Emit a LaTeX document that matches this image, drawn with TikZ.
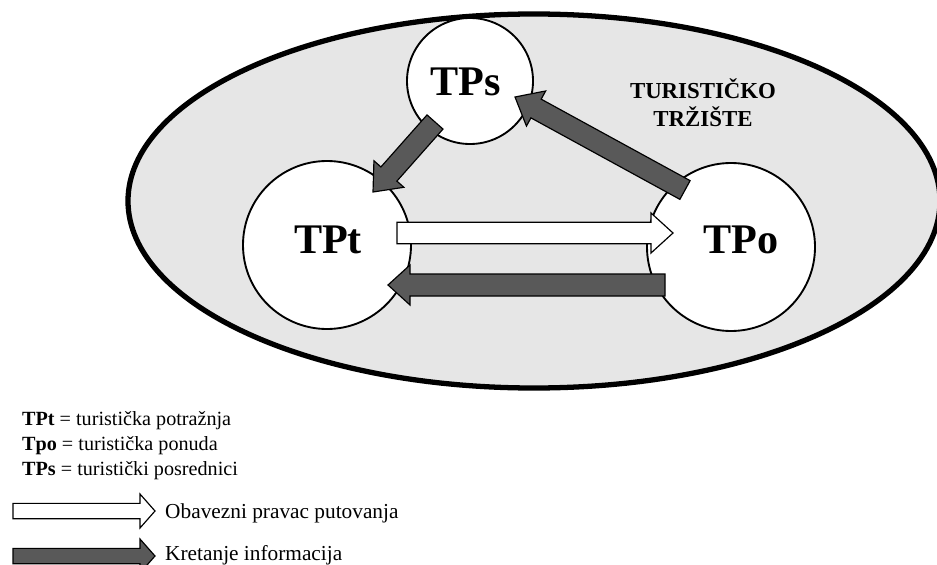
\documentclass[tikz,border=0pt]{standalone}
\usepackage{fontspec}
\setmainfont{Liberation Serif}
\usetikzlibrary{calc}

\definecolor{marketgray}{HTML}{E6E6E6}
\definecolor{infogray}{HTML}{595959}

\tikzset{
  bubble/.style={circle,draw,line width=1.6pt,fill=white,inner sep=0pt},
  biglbl/.style={font=\bfseries\fontsize{36}{40}\selectfont,inner sep=0pt},
  marketlbl/.style={font=\bfseries\fontsize{19.5}{24}\selectfont,align=center,inner sep=0pt},
  legendtxt/.style={font=\fontsize{17.2}{20}\selectfont,anchor=base west,inner sep=0pt},
  travel/.style={draw,line width=1pt,fill=white,line join=miter},
  info/.style={draw,line width=1pt,fill=infogray,line join=miter}
}

% #1 style, #2 from, #3 to, #4 half shaft, #5 half head, #6 head length
\newcommand\fatarrow[6]{%
  \coordinate (hb) at ($(#3)!#6!(#2)$);
  \draw[#1] ($(#2)!#4!90:(#3)$) -- ($(hb)!#4!90:(#3)$) -- ($(hb)!#5!90:(#3)$)
    -- (#3) -- ($(hb)!#5!-90:(#3)$) -- ($(hb)!#4!-90:(#3)$) -- ($(#2)!#4!-90:(#3)$) -- cycle;
}

\begin{document}
\begin{tikzpicture}[x=0.03cm,y=-0.03cm]
\useasboundingbox (0,0) rectangle (937,564);

% market
\draw[line width=4.5pt,fill=marketgray] (534,201) ellipse [x radius=406,y radius=187];
\node[marketlbl] (market) at (703,103) {TURISTIČKO\\TRŽIŠTE};

% participants
\node[bubble,minimum size=3.78cm] (TPs) at (470,81) {};
\node[bubble,minimum size=5.04cm] (TPt) at (327,245) {};
\node[bubble,minimum size=5.04cm] (TPo) at (731,247) {};
\node[biglbl] (TPslbl) at (466,82) {TPs};
\node[biglbl] (TPtlbl) at (328,240) {TPt};
\node[biglbl] (TPolbl) at (741,240) {TPo};

% flows
\coordinate (w1) at ($(TPt)+(70,-12)$);
\coordinate (w2) at ($(TPo)+(-58,-14)$);
\coordinate (d1) at ($(TPo)+(-66,38)$);
\coordinate (d2) at ($(TPt)+(61,40)$);
\coordinate (s1) at ($(TPs)+(-35,41)$);
\coordinate (s2) at ($(TPt)+(46,-53)$);
\coordinate (o1) at ($(TPo)+(-46,-57)$);
\coordinate (o2) at ($(TPs)+(45,16)$);
\fatarrow{travel}{w1}{w2}{0.32cm}{0.6cm}{0.66cm}
\fatarrow{info}{d1}{d2}{0.33cm}{0.6cm}{0.66cm}
\fatarrow{info}{s1}{s2}{0.32cm}{0.6cm}{0.72cm}
\fatarrow{info}{o1}{o2}{0.32cm}{0.6cm}{0.72cm}

% legend
\node[legendtxt] (lg1) at (22,425) {\textbf{TPt} = turistička potražnja};
\node[legendtxt] (lg2) at (22,450) {\textbf{Tpo} = turistička ponuda};
\node[legendtxt] (lg3) at (22,475) {\textbf{TPs} = turistički posrednici};
\coordinate (la1) at (13,511);
\coordinate (la2) at (155,511);
\coordinate (lb1) at (13,556);
\coordinate (lb2) at (155,556);
\fatarrow{travel}{la1}{la2}{0.23cm}{0.51cm}{0.45cm}
\fatarrow{info}{lb1}{lb2}{0.23cm}{0.51cm}{0.45cm}
\node[legendtxt,font=\fontsize{18.2}{21}\selectfont] (lg4) at (165,518) {Obavezni pravac putovanja};
\node[legendtxt,font=\fontsize{18.2}{21}\selectfont] (lg5) at (165,560) {Kretanje informacija};
\end{tikzpicture}
\end{document}
